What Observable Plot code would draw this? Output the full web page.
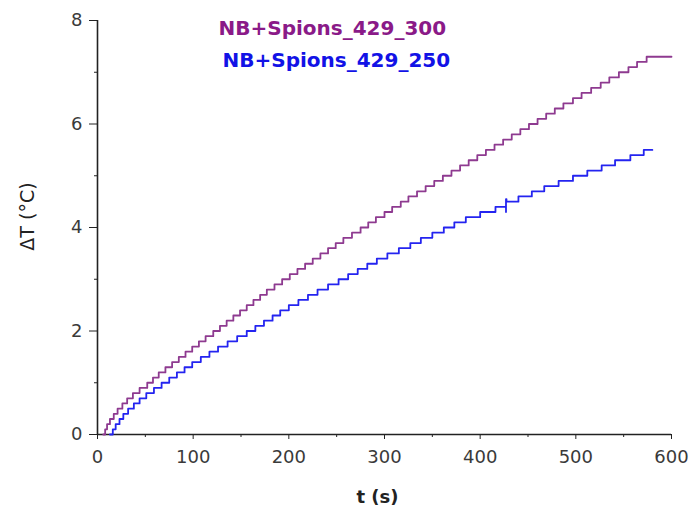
<!DOCTYPE html>
<html><head><meta charset="utf-8">
<script src="https://cdn.jsdelivr.net/npm/d3@7"></script>
<script src="https://cdn.jsdelivr.net/npm/@observablehq/plot@0.6"></script>
<style>body{margin:0;background:#fff}</style>
</head><body><div id="chart"></div>
<script>
// Series labels
const seriesLabels = ["NB+Spions_429_300", "NB+Spions_429_250"];
// Purple series (NB+Spions_429_300): time (s) at which each 0.1 °C step is reached
const tPurple = [6,8,10,13,17,21,26,31,37,44,52,58,64,71,78,85,92,99,106,113,121,128,135,142,149,156,163,170,177,185,193,201,209,217,225,233,241,249,257,266,275,283,291,300,308,317,325,334,343,352,361,370,379,388,397,406,415,424,433,442,451,460,469,478,487,497,506,516,526,535,545,555,564,574,600];
const vPurple = [0,0.1,0.2,0.3,0.4,0.5,0.6,0.7,0.8,0.9,1.0,1.1,1.2,1.3,1.4,1.5,1.6,1.7,1.8,1.9,2.0,2.1,2.2,2.3,2.4,2.5,2.6,2.7,2.8,2.9,3.0,3.1,3.2,3.3,3.4,3.5,3.6,3.7,3.8,3.9,4.0,4.1,4.2,4.3,4.4,4.5,4.6,4.7,4.8,4.9,5.0,5.1,5.2,5.3,5.4,5.5,5.6,5.7,5.8,5.9,6.0,6.1,6.2,6.3,6.4,6.5,6.6,6.7,6.8,6.9,7.0,7.1,7.2,7.3,7.3];
// Blue series (NB+Spions_429_250)
const tBlue = [13,16,19,23,27,32,38,44,51,59,67,75,83,91,99,108,117,126,136,146,156,165,174,183,191,200,210,220,230,241,252,262,272,282,292,303,315,327,338,350,362,373,385,400,416,427,427,427.5,440,454,467,482,497,512,527,541,557,571,580];
const vBlue = [0,0.1,0.2,0.3,0.4,0.5,0.6,0.7,0.8,0.9,1.0,1.1,1.2,1.3,1.4,1.5,1.6,1.7,1.8,1.9,2.0,2.1,2.2,2.3,2.4,2.5,2.6,2.7,2.8,2.9,3.0,3.1,3.2,3.3,3.4,3.5,3.6,3.7,3.8,3.9,4.0,4.1,4.2,4.3,4.4,4.3,4.55,4.5,4.6,4.7,4.8,4.9,5.0,5.1,5.2,5.3,5.4,5.5,5.5];
// Ticks
const xMajor = [0,100,200,300,400,500,600];
const xMinor = [50,150,250,350,450,550];
const yMajor = [0,2,4,6,8];
const yMinor = [1,3,5,7];

const purple = tPurple.map((t,i)=>({t, v:vPurple[i]}));
const blue = tBlue.map((t,i)=>({t, v:vBlue[i]}));

const chart = Plot.plot({
  width: 689, height: 506,
  marginLeft: 97, marginRight: 18, marginTop: 20, marginBottom: 72,
  style: {fontFamily: "DejaVu Sans", fontSize: "18px", background: "#fff", overflow: "visible"},
  x: {domain: [0, 600]},
  y: {domain: [0, 8]},
  marks: [
    Plot.axisY(yMajor, {tickSize: 8, tickPadding: 7, label: null, stroke: "#222", fill: "#3a3a3a", fontSize: 18, tickFormat: d => String(d)}),
    Plot.axisY(yMinor, {tickSize: 3, label: null, stroke: "#222", tickFormat: () => ""}),
    Plot.axisX(xMajor, {tickSize: 5, tickPadding: 11, label: null, stroke: "#222", fill: "#3a3a3a", fontSize: 18, tickFormat: d => String(d)}),
    Plot.axisX(xMinor, {tickSize: 3, label: null, stroke: "#222", tickFormat: () => ""}),
    Plot.ruleX([0], {stroke: "#222", strokeWidth: 1.6}),
    Plot.ruleY([0], {stroke: "#222", strokeWidth: 1.6}),
    Plot.line(purple, {x: "t", y: "v", curve: "step-after", stroke: "#8e3a90", strokeWidth: 1.8}),
    Plot.line(blue, {x: "t", y: "v", curve: "step-after", stroke: "#2424f0", strokeWidth: 1.8}),
    Plot.text([seriesLabels[0]], {frameAnchor: "top-left", textAnchor: "start", lineAnchor: "middle", dx: 121, dy: 8, fill: "#8a1a88", fontWeight: "bold", fontSize: 20}),
    Plot.text([seriesLabels[1]], {frameAnchor: "top-left", textAnchor: "start", lineAnchor: "middle", dx: 125, dy: 40, fill: "#1212e6", fontWeight: "bold", fontSize: 20}),
    Plot.text(["t (s)"], {frameAnchor: "bottom", lineAnchor: "middle", dx: -7, dy: 63, fill: "#222", fontWeight: "bold", fontSize: 18}),
    Plot.text(["ΔT (°C)"], {frameAnchor: "left", textAnchor: "middle", lineAnchor: "middle", rotate: -90, dx: -70, dy: -11, fill: "#222", fontSize: 19})
  ]
});
document.getElementById("chart").appendChild(chart);
</script>
</body></html>
